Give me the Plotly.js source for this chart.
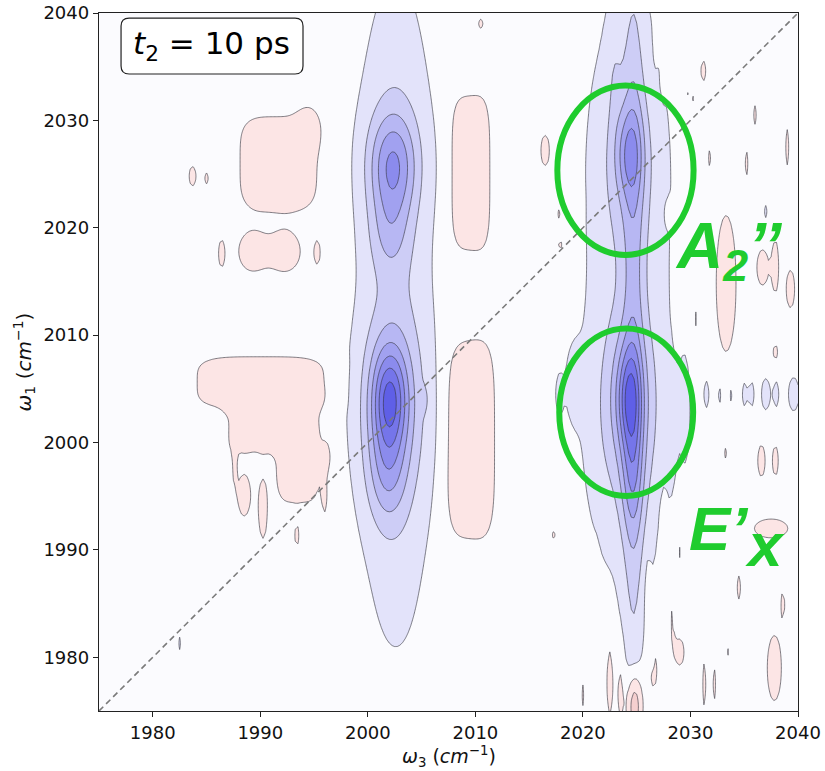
<!DOCTYPE html>
<html>
<head>
<meta charset="utf-8">
<script src="https://cdn.plot.ly/plotly-3.0.1.min.js"></script>
<style>html,body{margin:0;padding:0;background:#fff;}#chart{width:825px;height:771px;}</style>
</head>
<body>
<div id="chart"></div>
<script>
// 2D IR spectrum, t2 = 10 ps.  The surface is described by spectral features read off the
// reference picture: centre (omega3, omega1), widths, amplitude (positive = blue bleach,
// negative = pink), and flatness exponents along omega3 / omega1.
const peakW3  = [2002.6,2002.3,2002.0,2002.4,2002.0,2002.2,2001.8,
                 2024.7,2024.2,2024.3,2024.2,2024.3,2024.2,2024.6,
                 2019.2,2017.8,2028.2,2029.5,2022.9,
                 2031.5,2032.7,2033.8,2035.0,2035.7,2037.0,2038.0,2039.6,
                 2037.0,2005.3,1982.5,2026.4,
                 1991.7,1994.5,1989.2,1992.3,1986.4,1983.7,1985.0,1995.3,
                 1990.1,1993.5,1989.5,1987.6,1988.5,1990.25,1996.2,1996.0,1993.4,
                 2009.5,2009.45,2010.5,2016.5,2000.4,
                 2033.3,2036.7,2037.9,2039.3,2037.9,2036.6,2037.9,2033.3,2037.5,
                 2027.5,2029.0,2030.7,
                 2022.5,2023.5,2026.5,2029.0,2033.4,2037.8,2024.8,
                 2026.8,2027.5,2029.7,2031.2,2030.2,
                 2017.8,2019.85,2017.9,2028.0,2017.3,2020.1,
                 2028.6,2030.5,2021.2,2026.0,2028.3,2031.3,2032.2,2020.0,
                 2035.2,2039.0,2034.5,2038.6,2031.8,2036.0];
const peakW1  = [2012.0,2025.8,2019.5,2026.0,2004.2,2003.5,1997.5,
                 2010.0,2014.0,2027.0,2025.0,2004.3,2003.5,1997.0,
                 2005.5,2004.5,2002.5,2003.0,2035.0,
                 2004.5,2004.5,2004.5,2004.5,2004.5,2004.5,2004.5,2004.5,
                 2021.5,2004.0,1981.3,1981.0,
                 2026.0,2029.5,2017.8,2017.8,2017.6,2024.8,2024.6,2017.7,
                 2005.6,1999.2,2001.5,1998.5,1995.1,1993.8,1998.7,1994.8,1991.3,
                 2025.1,2000.3,2039.0,2027.2,1980.3,
                 2014.8,2016.3,2016.4,2014.3,2008.4,1998.3,1998.3,1999.0,1992.0,
                 1991.0,1990.0,1992.0,
                 1978.0,1977.0,1979.0,1980.5,1980.5,1979.0,1975.5,
                 2037.0,2033.5,2032.5,2034.6,2032.0,
                 2021.3,2022.5,2018.4,2021.3,1991.4,1991.5,
                 2013.0,2011.5,1984.0,1986.0,1984.0,1977.5,1977.5,1976.5,
                 2026.0,2027.5,1986.5,1985.0,2026.5,2030.5];
const peakS3  = [2.3,1.5,1.3,2.4,1.1,2.2,1.2,
                 0.7,3.2,0.9,1.8,0.8,2.0,0.7,
                 0.6,0.3,0.35,0.35,0.5,
                 0.25,0.25,0.25,0.25,0.25,0.4,0.25,0.5,
                 0.2,0.2,0.12,0.15,
                 3.3,0.8,1.1,1.3,0.3,0.35,0.25,0.3,
                 5.5,1.85,2.3,0.2,0.6,0.4,0.4,0.25,0.25,
                 1.7,2.15,0.3,0.45,0.35,
                 0.8,0.5,0.3,0.4,0.25,0.35,0.3,0.15,1.6,
                 0.25,0.25,0.3,
                 0.3,0.3,0.5,0.5,0.15,0.6,0.5,
                 0.15,0.15,0.2,0.3,0.2,
                 0.25,0.15,0.3,0.25,0.3,0.2,
                 0.2,0.2,0.2,0.2,0.25,0.2,0.2,0.15,
                 0.2,0.2,0.25,0.2,0.2,0.2];
const peakS1  = [28,3.3,2.8,6.5,3.2,6.5,3.5,
                 31,25,2.8,6.0,3.2,6.5,4.0,
                 2.5,1.6,3.5,3.5,4.0,
                 1.3,1.3,1.3,1.3,1.3,1.5,1.3,1.6,
                 0.8,0.9,0.8,1.5,
                 4.0,1.5,1.6,1.7,1.3,1.0,0.7,1.2,
                 2.2,4.4,2.2,2.0,2.0,2.8,1.4,1.6,1.2,
                 6.7,8.6,0.6,1.6,0.8,
                 5.5,1.6,2.4,1.8,0.8,1.5,1.5,0.7,0.9,
                 3.0,3.0,2.5,
                 3.5,3.0,2.3,1.5,1.2,2.8,2.2,
                 1.2,1.0,1.0,1.2,1.0,
                 0.8,1.3,0.9,0.8,0.6,0.6,
                 2.5,2.5,3.0,2.5,2.5,2.5,2.0,1.5,
                 1.5,2.0,1.5,1.5,1.2,1.2];
const peakAmp = [0.21,0.62,0.25,0.12,0.75,0.42,0.35,
                 0.30,0.17,0.40,0.25,0.60,0.40,0.30,
                 0.15,0.14,0.14,0.14,0.12,
                 0.14,0.14,0.14,0.14,0.14,0.16,0.14,0.16,
                 0.13,0.12,0.13,0.13,
                 -0.20,-0.12,-0.18,-0.18,-0.15,-0.15,-0.13,-0.14,
                 -0.20,-0.20,-0.18,-0.13,-0.16,-0.16,-0.14,-0.13,-0.13,
                 -0.20,-0.20,-0.13,-0.16,-0.14,
                 -0.20,-0.17,-0.16,-0.16,-0.14,-0.16,-0.15,-0.13,-0.16,
                 -0.15,-0.14,-0.14,
                 -0.17,-0.17,-0.16,-0.15,-0.13,-0.18,-0.55,
                 -0.13,-0.13,-0.13,-0.15,-0.13,
                 -0.14,-0.13,-0.14,-0.14,-0.13,-0.13,
                 -0.13,-0.13,-0.13,-0.13,-0.13,-0.14,-0.13,-0.13,
                 -0.13,-0.14,-0.13,-0.13,-0.13,-0.13];
const peakP3  = [1,1,1,1,1,1,1, 1,1,1,1,1,1,1, 1,1,1,1,1, 1,1,1,1,1,1,1,1, 1,1,1,1,
                 2,1,1,1,1,1,1,1, 2,2,2,1,1,1,1,1,1, 2,2,1,1,1,
                 1,1,1,1,1,1,1,1,1, 1,1,1, 1,1,1,1,1,1,1, 1,1,1,1,1, 1,1,1,1,1,1,
                 1,1,1,1,1,1,1,1, 1,1,1,1,1,1];
const peakP1  = [2,1,1,1,1,1,1, 2,2,1,1,1,1,1, 1,1,1,1,1, 1,1,1,1,1,1,1,1, 1,1,1,1,
                 2,1,1,1,1,1,1,1, 2,2,2,1,1,1,1,1,1, 2,2,1,1,1,
                 1,1,1,1,1,1,1,1,1, 1,1,1, 1,1,1,1,1,1,1, 1,1,1,1,1, 1,1,1,1,1,1,
                 1,1,1,1,1,1,1,1, 1,1,1,1,1,1];

const tickVals = [1980,1990,2000,2010,2020,2030,2040];
const contourLevels = {start:-0.3, end:1.5, size:0.2};
const bandColors = ['#f5cfcf','#fce5e5','#fbfbfe','#e3e3fa','#cdcdf6','#b7b7f3',
                    '#a1a1f0','#8b8bed','#7575ea','#5f5fe7','#4949e4'];

// sampling grid of the spectrum (cm^-1)
const w3 = [], w1 = [];
for (let v = 1975; v <= 2040.0001; v += 0.25) { w3.push(+v.toFixed(2)); w1.push(+v.toFixed(2)); }
const z = w1.map(y => w3.map(x => {
  let s = 0;
  for (let k = 0; k < peakW3.length; k++) {
    const u = Math.abs((x - peakW3[k]) / peakS3[k]);
    const v = Math.abs((y - peakW1[k]) / peakS1[k]);
    const e = 0.5 * (Math.pow(u, 2 * peakP3[k]) + Math.pow(v, 2 * peakP1[k]));
    if (e < 30) s += peakAmp[k] * Math.exp(-e);
  }
  return s;
}));

const colorscale = bandColors.map((c, i) => [i / (bandColors.length - 1), c]);

const trace = {
  type: 'contour', x: w3, y: w1, z: z,
  autocontour: false,
  contours: {start: contourLevels.start, end: contourLevels.end, size: contourLevels.size,
             coloring: 'fill', showlines: true},
  line: {color: 'rgba(50,50,60,0.62)', width: 1, smoothing: 0.5},
  colorscale: colorscale, showscale: false, hoverinfo: 'skip'
};

const green = '#1fcc2e';
const font = {family: 'DejaVu Sans', size: 18, color: '#111'};
const titleFont = {family: 'DejaVu Sans', size: 19, color: '#111'};
const layout = {
  width: 825, height: 771,
  margin: {l: 99, r: 27, t: 13, b: 60},
  paper_bgcolor: '#ffffff', plot_bgcolor: '#fbfbfe',
  font: font, showlegend: false,
  xaxis: {range: [1975, 2040], tickvals: tickVals, ticks: 'outside', ticklen: 5,
          tickcolor: '#222', showline: true, linecolor: '#222', linewidth: 1.2, mirror: true,
          showgrid: false, zeroline: false, tickfont: font},
  yaxis: {range: [1975, 2040], tickvals: tickVals, ticks: 'outside', ticklen: 5,
          tickcolor: '#222', showline: true, linecolor: '#222', linewidth: 1.2, mirror: true,
          showgrid: false, zeroline: false, tickfont: font,
          title: {text: '<i>ω</i><sub>1</sub> (<i>cm</i><sup>−1</sup>)', font: {family: 'DejaVu Sans', size: 20, color: '#111'}, standoff: 6}},
  shapes: [
    {type: 'line', xref: 'x', yref: 'y', x0: 1975, y0: 1975, x1: 2040, y1: 2040,
     line: {color: '#7a7a7a', width: 1.6, dash: '6px,4px'}},
    {type: 'circle', xref: 'x', yref: 'y', x0: 2017.62, x1: 2030.29, y0: 2017.47, y1: 2033.25,
     line: {color: green, width: 6}},
    {type: 'circle', xref: 'x', yref: 'y', x0: 2017.8, x1: 2030.25, y0: 1995.03, y1: 2010.62,
     line: {color: green, width: 6}},
    {type: 'path', xref: 'x', yref: 'y',
     path: 'M 1977.8 2039.53 L 1993.23 2039.53 Q 1993.97 2039.53 1993.97 2038.79 L 1993.97 2035.06 Q 1993.97 2034.32 1993.23 2034.32 L 1977.8 2034.32 Q 1977.05 2034.32 1977.05 2035.06 L 1977.05 2038.79 Q 1977.05 2039.53 1977.8 2039.53 Z',
     fillcolor: '#ffffff', line: {color: '#222', width: 1.2}}
  ],
  annotations: [
    {xref: 'paper', yref: 'paper', x: 0.5, y: -0.065, text: '<i>ω</i><sub>3</sub> (<i>cm</i><sup>−1</sup>)',
     showarrow: false, font: titleFont, xanchor: 'center', yanchor: 'middle'},
    {xref: 'x', yref: 'y', x: 1985.5, y: 2036.95, text: '<i>t</i><sub>2</sub> = 10 ps', showarrow: false,
     font: {family: 'DejaVu Sans', size: 31, color: '#000'}, xanchor: 'center', yanchor: 'middle'},
    {xref: 'x', yref: 'y', x: 2033.6, y: 2017.9, text: '<b><i>A<sub>2</sub>’’</i></b>', showarrow: false,
     font: {family: 'Liberation Sans', size: 64, color: green}, xanchor: 'center', yanchor: 'middle'},
    {xref: 'x', yref: 'y', x: 2029.69, y: 1991.96, text: '<b><i>E’</i></b>', showarrow: false,
     font: {family: 'Liberation Sans', size: 62, color: green}, xanchor: 'left', yanchor: 'middle'},
    {xref: 'x', yref: 'y', x: 2036.93, y: 1990.46, text: '<b><i>x</i></b>', showarrow: false,
     font: {family: 'Liberation Sans', size: 62, color: green}, xanchor: 'center', yanchor: 'middle'}
  ]
};

Plotly.newPlot('chart', [trace], layout, {staticPlot: true, displayModeBar: false});
</script>
</body>
</html>
